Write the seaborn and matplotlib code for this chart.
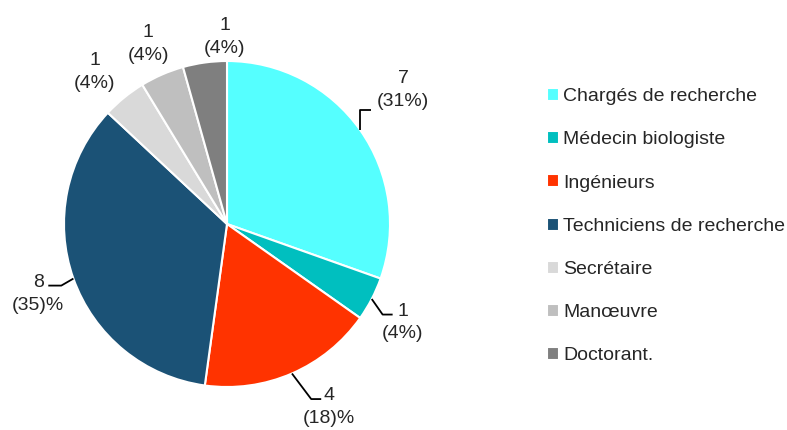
import numpy as np
import seaborn as sns
import matplotlib.pyplot as plt

# ----------------------------
# Données
# ----------------------------
categories = ["Chargés de recherche", "Médecin biologiste", "Ingénieurs",
              "Techniciens de recherche", "Secrétaire", "Manœuvre", "Doctorant."]
counts = [7, 1, 4, 8, 1, 1, 1]
pct_labels = ["(31%)", "(4%)", "(18)%", "(35)%", "(4%)", "(4%)", "(4%)"]
colors = ["#55FFFF", "#00BFBF", "#FF3300", "#1B5276", "#D9D9D9", "#BFBFBF", "#7F7F7F"]

sns.set_theme(style="white")
plt.rcParams["font.family"] = ["Liberation Sans Narrow", "Liberation Sans", "DejaVu Sans"]

fig = plt.figure(figsize=(7.87, 4.30), dpi=100)
W, H = 787, 430
cx, cy, rad = 227, 224, 163          # centre et rayon du camembert (px)
lim = 1.39
ax = fig.add_axes([(cx - lim * rad) / W, (H - cy - lim * rad) / H,
                   2 * lim * rad / W, 2 * lim * rad / H])

wedges, _ = ax.pie(counts, colors=sns.color_palette(colors), startangle=90,
                   counterclock=False,
                   wedgeprops=dict(edgecolor="white", linewidth=1.5))
ax.set_xlim(-lim, lim)
ax.set_ylim(-lim, lim)
ax.set_aspect("equal")
ax.axis("off")

px = 1 / rad   # 1 pixel en unités du camembert
FS = 14
LS = 1.45
half = 14 * px  # demi-interligne

# lignes de rappel : (angle du 1er segment, longueur, segment horizontal, décalage texte, ligne alignée)
leaders = {
    0: (90, 20, 11, 32, "bas"),
    1: (-55, 19, 10, 10, "haut"),
    2: (-53, 32, 10, 8, "haut"),
    3: (210, 14, -13, -10, "haut"),
}
# étiquettes sans ligne : (rayon, décalage angulaire)
free_pos = {4: (1.235, 2.0), 5: (1.206, 0.2), 6: (1.146, -7.2)}

for i, (w, n, p) in enumerate(zip(wedges, counts, pct_labels)):
    mid = np.deg2rad((w.theta1 + w.theta2) / 2)
    txt = f"{n}\n{p}"
    if i in leaders:
        a, l1, l2, dt, line = leaders[i]
        ex, ey = np.cos(mid), np.sin(mid)
        kx = ex + l1 * px * np.cos(np.deg2rad(a))
        ky = ey + l1 * px * np.sin(np.deg2rad(a))
        hx = kx + l2 * px
        ax.plot([ex, kx, hx], [ey, ky, ky], color="black", lw=1.3,
                solid_capstyle="butt", clip_on=False)
        ty = ky + 6 * px + (half if line == "bas" else -half)
        ax.text(hx + dt * px, ty, txt, ha="center", va="center",
                fontsize=FS, linespacing=LS)
    else:
        r, da = free_pos[i]
        ang = mid + np.deg2rad(da)
        ax.text(r * np.cos(ang), r * np.sin(ang), txt, ha="center", va="center",
                fontsize=FS, linespacing=LS)

fig.legend(wedges, categories, loc="upper left",
           bbox_to_anchor=(529 / W, 1 - 70.5 / H), frameon=False,
           fontsize=FS, handlelength=0.65, handleheight=0.65,
           handletextpad=0.2, labelspacing=1.33)

fig.savefig("out.png", dpi=100)
